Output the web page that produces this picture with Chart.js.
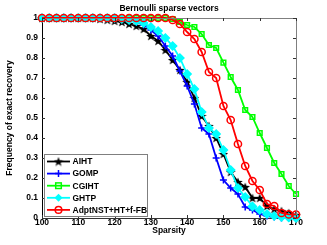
<!DOCTYPE html>
<html><head><meta charset="utf-8">
<script src="https://cdn.jsdelivr.net/npm/chart.js@4.4.1/dist/chart.umd.min.js"></script>
<style>html,body{margin:0;padding:0;background:#fff}canvas{display:block}</style>
</head><body>
<canvas id="c" width="327" height="245"></canvas>
<script>
const sparsity = [100,102,104,106,108,110,112,114,116,118,120,122,124,126,128,130,132,134,136,138,140,142,144,146,148,150,152,154,156,158,160,162,164,166,168,170];
const aiht = [1,1,1,1,1,1,1,1,0.995,0.99,0.985,0.98,0.97,0.96,0.945,0.91,0.885,0.84,0.79,0.74,0.68,0.6,0.51,0.46,0.40,0.32,0.23,0.18,0.155,0.10,0.10,0.06,0.045,0.035,0.025,0.015];
const gomp = [1,1,1,1,1,1,1,1,1,1,1,0.995,0.99,0.98,0.965,0.94,0.91,0.86,0.81,0.735,0.66,0.57,0.45,0.42,0.30,0.19,0.15,0.12,0.055,0.04,0.02,0.01,0.005,0,0,0];
const cgiht = [1,1,1,1,1,1,1,1,1,1,1,1,1,1,1,1,1,1,0.995,0.98,0.965,0.955,0.92,0.865,0.85,0.777,0.705,0.64,0.54,0.505,0.425,0.35,0.275,0.22,0.16,0.12];
const ghtp = [1,1,1,1,1,1,1,1,1,1,1,0.995,0.99,0.985,0.975,0.955,0.935,0.9,0.86,0.8,0.72,0.645,0.53,0.45,0.42,0.34,0.24,0.15,0.105,0.058,0.04,0.02,0.01,0.005,0.003,0];
const adpt = [1,1,1,1,1,1,1,1,1,1,1,1,1,1,1,1,1,1,0.99,0.97,0.93,0.895,0.83,0.73,0.70,0.56,0.49,0.37,0.26,0.185,0.14,0.07,0.06,0.025,0.018,0.017];
const seriesNames = ["AIHT","GOMP","CGIHT","GHTP","AdptNST+HT+f-FB"];
const xTicks = [100,110,120,130,140,150,160,170];
const yTicks = [0,0.1,0.2,0.3,0.4,0.5,0.6,0.7,0.8,0.9,1];
const titleText = "Bernoulli sparse vectors";
const xTitle = "Sparsity";
const yTitle = "Frequency of exact recovery";

const FAMILY = '"Liberation Sans", Arial, sans-serif';
const FONT = 'bold 8.5px ' + FAMILY;

function makePentagram(size, color){
  const cv = document.createElement('canvas');
  cv.width = size; cv.height = size;
  const g = cv.getContext('2d');
  const cx = size/2, cy = size/2 + 0.5, R = size/2, r = R*0.42;
  g.beginPath();
  for (let i=0;i<10;i++){
    const ang = -Math.PI/2 + i*Math.PI/5;
    const rad = i%2===0 ? R : r;
    const px = cx + rad*Math.cos(ang), py = cy + rad*Math.sin(ang);
    if (i===0) g.moveTo(px,py); else g.lineTo(px,py);
  }
  g.closePath();
  g.fillStyle = color; g.fill();
  return cv;
}
const starImg = makePentagram(10, '#000');

function pts(arr){ return sparsity.map((s,i)=>({x:s,y:arr[i]})); }

const styles = [
  {color:'#000000', pointStyle: starImg, radius:5, bg:'#000000'},
  {color:'#0000ff', pointStyle:'cross', radius:3.5, bg:'#0000ff'},
  {color:'#00ff00', pointStyle:'rect', radius:3.3, bg:'rgba(0,0,0,0)'},
  {color:'#00ffff', pointStyle:'rectRot', radius:4, bg:'#00ffff'},
  {color:'#ff0000', pointStyle:'circle', radius:3.6, bg:'rgba(0,0,0,0)'}
];
const allData = [aiht, gomp, cgiht, ghtp, adpt];

const datasets = allData.map((arr,i)=>({
  label: seriesNames[i],
  data: pts(arr),
  borderColor: styles[i].color,
  backgroundColor: styles[i].bg,
  pointBorderColor: styles[i].color,
  pointBackgroundColor: styles[i].bg,
  pointStyle: styles[i].pointStyle,
  pointRadius: styles[i].radius,
  pointBorderWidth: 1.5,
  borderWidth: 1.8,
  tension: 0,
  clip: false,
  order: 4 - i
}));

function drawMarker(ctx, i, x, y){
  const st = styles[i];
  ctx.save();
  ctx.strokeStyle = st.color; ctx.fillStyle = st.bg; ctx.lineWidth = 1.5;
  if (st.pointStyle === starImg){
    ctx.drawImage(starImg, x-5, y-5);
  } else if (st.pointStyle === 'cross'){
    ctx.beginPath(); ctx.moveTo(x-3.5,y); ctx.lineTo(x+3.5,y); ctx.moveTo(x,y-3.5); ctx.lineTo(x,y+3.5); ctx.stroke();
  } else if (st.pointStyle === 'rect'){
    ctx.strokeRect(x-2.8,y-2.8,5.6,5.6);
  } else if (st.pointStyle === 'rectRot'){
    ctx.beginPath(); ctx.moveTo(x,y-4); ctx.lineTo(x+4,y); ctx.lineTo(x,y+4); ctx.lineTo(x-4,y); ctx.closePath(); ctx.fillStyle=st.color; ctx.fill();
  } else {
    ctx.beginPath(); ctx.arc(x,y,3.3,0,Math.PI*2); ctx.stroke();
  }
  ctx.restore();
}

const decor = {
  id:'decor',
  afterDraw(chart){
    const ctx = chart.ctx, a = chart.chartArea;
    const xs = chart.scales.x, ys = chart.scales.y;
    ctx.save();
    ctx.strokeStyle = '#7f7f7f'; ctx.lineWidth = 1;
    ctx.beginPath();
    ctx.moveTo(a.left, a.top+0.5); ctx.lineTo(a.right+0.5, a.top+0.5);
    ctx.lineTo(a.right+0.5, a.bottom);
    ctx.stroke();
    ctx.strokeStyle = '#333';
    ctx.beginPath();
    xTicks.forEach(v=>{
      const px = Math.round(xs.getPixelForValue(v))+0.5;
      ctx.moveTo(px, a.bottom); ctx.lineTo(px, a.bottom-3);
      ctx.moveTo(px, a.top); ctx.lineTo(px, a.top+3);
    });
    yTicks.forEach(v=>{
      const py = Math.round(ys.getPixelForValue(v))+0.5;
      ctx.moveTo(a.left, py); ctx.lineTo(a.left+3, py);
      ctx.moveTo(a.right, py); ctx.lineTo(a.right-3, py);
    });
    ctx.stroke();
    ctx.fillStyle = '#000'; ctx.font = FONT;
    ctx.textAlign = 'center'; ctx.textBaseline = 'middle';
    ctx.fillText(titleText, (a.left+a.right)/2, 8.5);
    ctx.fillText(xTitle, (a.left+a.right)/2, 231);
    ctx.save();
    ctx.translate(9.5, (a.top+a.bottom)/2);
    ctx.rotate(-Math.PI/2);
    ctx.fillText(yTitle, 0, 0);
    ctx.restore();
    const lx = 44, ly = 154, lw = 103, lh = 62;
    ctx.fillStyle = '#fff';
    ctx.fillRect(lx, ly, lw, lh);
    ctx.strokeStyle = '#7f7f7f'; ctx.lineWidth = 1;
    ctx.strokeRect(lx+0.5, ly+0.5, lw, lh);
    ctx.textAlign = 'left';
    seriesNames.forEach((name,i)=>{
      const y = 161.5 + i*12.1;
      ctx.strokeStyle = styles[i].color; ctx.lineWidth = 1.8;
      ctx.beginPath(); ctx.moveTo(47, y); ctx.lineTo(70, y); ctx.stroke();
      drawMarker(ctx, i, 58.5, y);
      ctx.fillStyle = '#000'; ctx.font = FONT; ctx.textBaseline = 'middle';
      ctx.fillText(name, 72.5, y+0.5);
    });
    ctx.restore();
  }
};

new Chart(document.getElementById('c'), {
  type:'line',
  data:{datasets},
  options:{
    responsive:false, animation:false, devicePixelRatio:1,
    layout:{padding:{left:0, top:18, right:31, bottom:0}},
    plugins:{legend:{display:false}, title:{display:false}, tooltip:{enabled:false}},
    scales:{
      x:{type:'linear', min:100, max:170,
        afterFit(s){ s.height = 27; },
        afterBuildTicks(s){ s.ticks = xTicks.map(v=>({value:v})); },
        grid:{display:false, drawTicks:false},
        border:{display:true, color:'#333', width:1},
        ticks:{font:{family:FAMILY, size:8.5, weight:'bold'}, color:'#000', padding:0, maxRotation:0, autoSkip:false}
      },
      y:{type:'linear', min:0, max:1,
        afterFit(s){ s.width = 42; },
        afterBuildTicks(s){ s.ticks = yTicks.map(v=>({value:v})); },
        grid:{display:false, drawTicks:false},
        border:{display:true, color:'#000', width:1},
        ticks:{font:{family:FAMILY, size:8.5, weight:'bold'}, color:'#000', padding:4, autoSkip:false,
          callback:(v)=>String(Math.round(v*10)/10)}
      }
    }
  },
  plugins:[decor]
});
</script>
</body></html>
